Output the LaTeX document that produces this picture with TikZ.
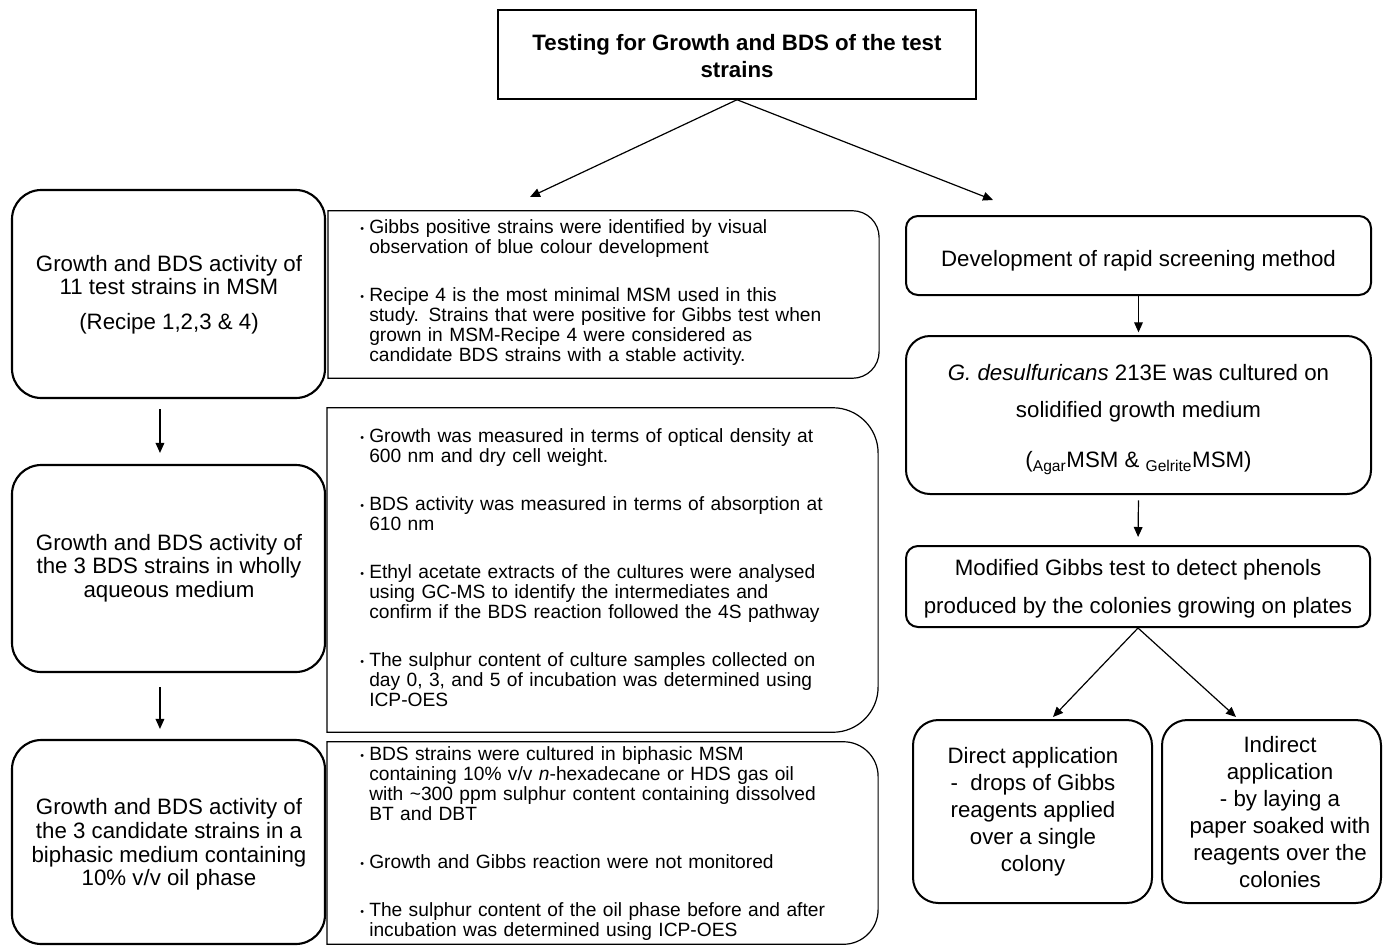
\documentclass[tikz,border=0pt]{standalone}
\usepackage{fontspec}
\setmainfont{Liberation Sans}
\usetikzlibrary{arrows.meta}
\newcommand{\bul}{\makebox[8.25pt][l]{\hspace{1.5pt}\raisebox{1.2pt}{\fontsize{8}{8}\selectfont •}}}
\newcommand{\ind}{\hspace*{8.25pt}}
\begin{document}
\begin{tikzpicture}[x=0.75pt,y=-0.75pt,
  lbox/.style={draw, line width=1.6pt, rounded corners=22pt, minimum width=234.75pt, inner sep=0pt},
  rbox/.style={draw, line width=1.5pt, inner sep=0pt},
  mframe/.style={draw=none, minimum width=413pt, inner sep=0pt},
  mline/.style={line width=0.9pt},
  ltxt/.style={align=center, inner sep=0pt, font=\fontsize{16.7}{17.5}\selectfont},
  mtxt/.style={align=left, text width=365pt, inner sep=0pt, anchor=west, font=\fontsize{14.4}{15}\selectfont},
  arr/.style={-{Triangle[length=7.5pt,width=6.5pt]}, line width=0.9pt}
]
\useasboundingbox (0,0) rectangle (1383,946);

% top box
\node[draw, line width=1.1pt, minimum width=358.5pt, minimum height=66.75pt, inner sep=0pt] (top) at (737,54.5) {};
\node[align=center, inner sep=0pt, font=\bfseries\fontsize{16.7}{20.25}\selectfont] (toptxt) at (737,56.5)
  {Testing for Growth and BDS of the test\\strains};

% left column
\node[lbox, minimum height=156pt] (l1) at (168.5,294) {};
\node[ltxt] (l1t) at (169,294.5) {Growth and BDS activity of\\11 test strains in MSM\\[8.25pt](Recipe 1,2,3 \& 4)};
\node[lbox, minimum height=155.25pt] (l2) at (168.5,568.5) {};
\node[ltxt] (l2t) at (169,568) {Growth and BDS activity of\\the 3 BDS strains in wholly\\aqueous medium};
\node[lbox, minimum height=153pt] (l3) at (168.5,842) {};
\node[ltxt, font=\fontsize{16.7}{17.75}\selectfont] (l3t) at (169,844.5) {Growth and BDS activity of\\the 3 candidate strains in a\\biphasic medium containing\\10\% v/v  oil phase};

% middle column frames
\node[mframe, minimum height=125.25pt] (m1) at (603.5,294.5) {};
\draw[mline] (m1.north west) -- ([xshift=-20pt]m1.north east) arc[start angle=90,end angle=0,radius=20pt]
  -- ([yshift=20pt]m1.south east) arc[start angle=0,end angle=-90,radius=20pt] -- (m1.south west) -- cycle;
\node[mframe, minimum height=243pt] (m2) at (602.5,570) {};
\draw[mline] (m2.north west) -- ([xshift=-34pt]m2.north east) arc[start angle=90,end angle=0,radius=34pt]
  -- ([yshift=34pt]m2.south east) arc[start angle=0,end angle=-90,radius=34pt] -- (m2.south west) -- cycle;
\node[mframe, minimum height=151.5pt] (m3) at (602.5,843) {};
\draw[mline] (m3.north west) -- ([xshift=-26pt]m3.north east) arc[start angle=90,end angle=0,radius=26pt]
  -- ([yshift=26pt]m3.south east) arc[start angle=0,end angle=-90,radius=26pt] -- (m3.south west) -- cycle;

\node[mtxt] (m1t) at (358,293) {\bul Gibbs positive strains were identified by visual\\
\ind observation of blue colour development\\[21pt]
\bul Recipe 4 is the most minimal MSM used in this\\
\ind study. Strains that were positive for Gibbs test when\\
\ind grown in MSM-Recipe 4 were considered as\\
\ind candidate BDS strains with a stable activity.};

\node[mtxt] (m2t) at (358,568) {\bul Growth was measured in terms of optical density at\\
\ind 600 nm and dry cell weight.\\[21pt]
\bul BDS activity was measured in terms of absorption at\\
\ind 610 nm\\[21pt]
\bul Ethyl acetate extracts of the cultures were analysed\\
\ind using GC-MS to identify the intermediates and\\
\ind confirm if the BDS reaction followed the 4S pathway\\[21pt]
\bul The sulphur content of culture samples collected on\\
\ind day 0, 3, and 5 of incubation was determined using\\
\ind ICP-OES};

\node[mtxt] (m3t) at (358,844) {\bul BDS strains were cultured in biphasic MSM\\
\ind containing 10\% v/v \textit{n}-hexadecane or HDS gas oil\\
\ind with \textasciitilde300 ppm sulphur content containing dissolved\\
\ind BT and DBT\\[21pt]
\bul Growth and Gibbs reaction were not monitored\\[21pt]
\bul The sulphur content of the oil phase before and after\\
\ind incubation was determined using ICP-OES};

% right column
\node[rbox, rounded corners=9pt, minimum width=348.75pt, minimum height=59.25pt] (r1) at (1138.5,255.5) {};
\node[ltxt] (r1t) at (1138.5,261) {Development of rapid screening method};
\node[rbox, rounded corners=18pt, minimum width=348.75pt, minimum height=118.5pt] (r2) at (1138.5,415) {};
\node[ltxt, font=\fontsize{16.7}{27.75}\selectfont] (r2t) at (1138.5,419.5)
  {\textit{G. desulfuricans} 213E was cultured on\\solidified growth medium\\[9.75pt](\textsubscript{Agar}MSM \& \textsubscript{Gelrite}MSM)};
\node[rbox, rounded corners=9pt, minimum width=348pt, minimum height=60.75pt] (r3) at (1138,586.5) {};
\node[ltxt, font=\fontsize{16.7}{28.5}\selectfont] (r3t) at (1138,589)
  {Modified Gibbs test to detect phenols\\produced by the colonies growing on plates};
\node[rbox, rounded corners=19pt, minimum width=179.25pt, minimum height=137.25pt] (r4) at (1032.5,811.5) {};
\node[ltxt, font=\fontsize{16.7}{20.25}\selectfont] (r4t) at (1033,812)
  {Direct application\\-\ \ drops of Gibbs\\reagents applied\\over a single\\colony};
\node[rbox, rounded corners=19pt, minimum width=164.25pt, minimum height=137.25pt] (r5) at (1271.5,811.5) {};
\node[ltxt, font=\fontsize{16.7}{20.25}\selectfont] (r5t) at (1280,812)
  {Indirect\\application\\- by laying a\\paper soaked with\\reagents over the\\colonies};

% connectors
\coordinate (ta) at (530,197);
\coordinate (tb) at (993,200);
\draw[arr] (top.south) -- (ta);
\draw[arr] (top.south) -- (tb);
\draw[arr, shorten <=7.5pt, shorten >=8.25pt] ([xshift=-6.4pt]l1.south) -- ([xshift=-6.4pt]l2.north);
\draw[arr, shorten <=10.5pt, shorten >=7.5pt] ([xshift=-6.4pt]l2.south) -- ([xshift=-6.4pt]l3.north);
\draw[arr, shorten >=2pt] (r1.south) -- (r2.north);
\draw[arr, shorten <=4pt, shorten >=6pt] (r2.south) -- (r3.north);
\coordinate (e4) at (1053,717);
\coordinate (e5) at (1236,717);
\draw[arr] (r3.south) -- (e4);
\draw[arr] (r3.south) -- (e5);
\end{tikzpicture}
\end{document}
